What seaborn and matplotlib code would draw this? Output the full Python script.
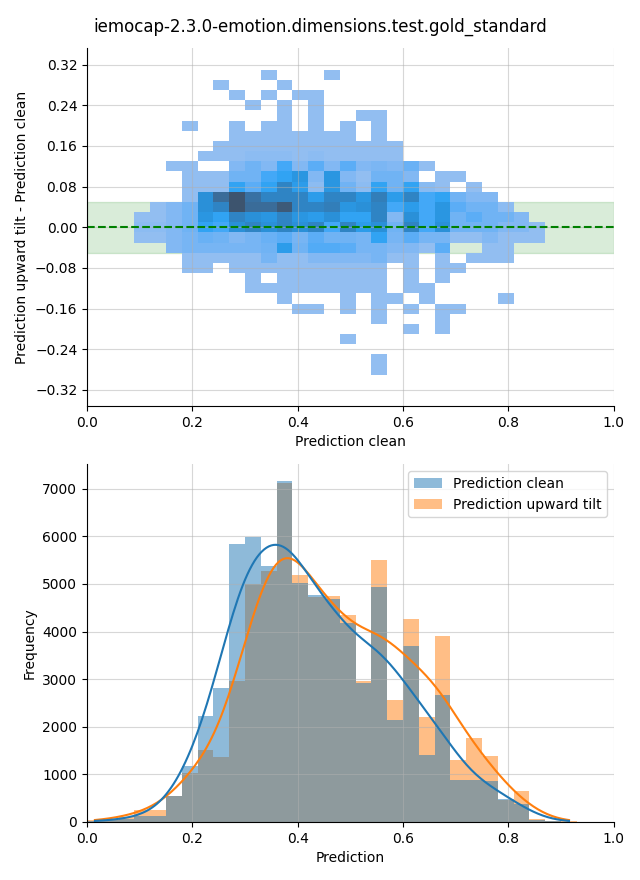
import numpy as np
import pandas as pd
import matplotlib
matplotlib.use('Agg')
import matplotlib.pyplot as plt
import seaborn as sns

title = 'iemocap-2.3.0-emotion.dimensions.test.gold_standard'

# ---- top panel: 2D histogram, clean prediction vs. (upward tilt - clean)
# bin centres of the cells (x bins 0.03, y bins 0.02)
pred_centres = [0.105, 0.135, 0.165, 0.195, 0.225, 0.255, 0.285, 0.315, 0.345,
                0.375, 0.405, 0.435, 0.465, 0.495, 0.525, 0.555, 0.585, 0.615,
                0.645, 0.675, 0.705, 0.735, 0.765, 0.795, 0.825, 0.855]
diff_centres = [0.30, 0.28, 0.26, 0.24, 0.22, 0.20, 0.18, 0.16, 0.14, 0.12,
                0.10, 0.08, 0.06, 0.04, 0.02, 0.00, -0.02, -0.04, -0.06, -0.08,
                -0.10, -0.12, -0.14, -0.16, -0.18, -0.20, -0.22, -0.24, -0.26, -0.28]
# relative cell counts (1 = faintest cell, 10 = darkest), one row per diff bin
cell_counts = [
    [0, 0, 0, 0, 0, 0, 0, 0, 1, 0, 0, 0, 1, 0, 0, 0, 0, 0, 0, 0, 0, 0, 0, 0, 0, 0],
    [0, 0, 0, 0, 0, 1, 0, 0, 0, 1, 0, 0, 0, 0, 0, 0, 0, 0, 0, 0, 0, 0, 0, 0, 0, 0],
    [0, 0, 0, 0, 0, 0, 1, 0, 1, 0, 1, 1, 0, 0, 0, 0, 0, 0, 0, 0, 0, 0, 0, 0, 0, 0],
    [0, 0, 0, 0, 0, 0, 0, 1, 0, 1, 0, 1, 0, 0, 0, 0, 0, 0, 0, 0, 0, 0, 0, 0, 0, 0],
    [0, 0, 0, 0, 0, 0, 0, 0, 0, 1, 0, 1, 0, 0, 1, 1, 0, 0, 0, 0, 0, 0, 0, 0, 0, 0],
    [0, 0, 0, 1, 0, 0, 1, 0, 1, 1, 0, 1, 0, 1, 0, 1, 0, 0, 0, 0, 0, 0, 0, 0, 0, 0],
    [0, 0, 0, 0, 0, 0, 1, 1, 1, 1, 1, 1, 1, 1, 0, 1, 0, 0, 0, 0, 0, 0, 0, 0, 0, 0],
    [0, 0, 0, 0, 0, 1, 1, 1, 1, 1, 1, 1, 1, 1, 1, 1, 1, 0, 0, 0, 0, 0, 0, 0, 0, 0],
    [0, 0, 0, 0, 1, 1, 1, 1.2, 1.2, 1.2, 1, 1.2, 1, 1, 1, 1, 1, 0, 0, 0, 0, 0, 0, 0, 0, 0],
    [0, 0, 1, 1, 0, 0, 1.5, 2, 1.5, 3, 1.5, 2.5, 1.5, 2.5, 1.5, 1.7, 1.5, 2.2, 1, 0, 0, 0, 0, 0, 0, 0],
    [0, 0, 0, 1, 1, 1, 2, 2, 3, 3.5, 4.5, 1.5, 4.5, 1.5, 1, 2, 2, 1.5, 0, 1, 1, 0, 0, 0, 0, 0],
    [0, 0, 0, 1, 1, 1, 3.5, 2.5, 3.5, 6, 4, 1.2, 4.5, 2, 1.2, 3.5, 2, 3.5, 1.3, 1, 0, 1, 0, 0, 0, 0],
    [0, 0, 0, 1, 5, 8, 10, 7.5, 6, 6, 6, 4, 6, 6, 4.5, 6.5, 4, 6, 3, 3.5, 2, 1.5, 1.5, 0, 0, 0],
    [0, 1, 1.5, 2, 5, 6, 10, 8, 8, 9.5, 6, 6, 6.5, 4.5, 5, 6, 3, 4, 3, 4.5, 2.5, 2, 2, 1.2, 0, 0],
    [1, 1, 1.5, 2, 4.5, 3.5, 6, 5, 4.5, 6, 4.5, 4, 5, 3.5, 3.5, 6, 1.5, 5, 3, 4.5, 2, 2.5, 2, 2, 1.5, 0],
    [1.2, 1.2, 1.5, 2, 3.5, 3, 5, 6, 5, 6, 5, 6, 3, 6, 4, 5, 2, 6, 3, 5, 2, 2, 2, 1.5, 1.5, 1],
    [1, 1, 1.5, 1.8, 2.2, 2, 1.5, 1.8, 2.2, 2.5, 1.8, 2.5, 2, 2, 1.8, 3.5, 1.8, 2.5, 1.8, 1.8, 1, 1, 1.5, 1, 1, 1],
    [0, 0, 1.5, 1.8, 1.8, 1.8, 1.8, 1.8, 2, 4, 2, 2.7, 2.7, 2.5, 1.8, 1.8, 1.5, 1.5, 1, 2.5, 0, 0, 1, 1, 0, 0],
    [0, 0, 0, 1, 1, 1, 1, 1, 1.8, 1, 1, 1.5, 1.5, 1.5, 1.5, 1.8, 1, 1, 0, 1, 0, 1, 1, 1, 0, 0],
    [0, 0, 0, 1, 1, 0, 1, 1, 1, 1, 1, 1, 1, 1, 1, 1, 0, 1, 0, 1, 1, 0, 0, 0, 0, 0],
    [0, 0, 0, 0, 0, 0, 0, 1, 0, 1, 1, 1, 1, 1, 1, 1, 0, 1, 0, 1, 0, 0, 0, 0, 0, 0],
    [0, 0, 0, 0, 0, 0, 0, 1, 1, 1, 1, 1, 1, 1, 1, 1, 0, 1, 1, 0, 0, 0, 0, 0, 0, 0],
    [0, 0, 0, 0, 0, 0, 0, 0, 0, 1, 0, 0, 0, 1, 0, 1, 1, 0, 1, 0, 0, 0, 0, 1, 0, 0],
    [0, 0, 0, 0, 0, 0, 0, 0, 0, 0, 1, 1, 0, 1, 0, 1, 0, 1, 0, 1, 1, 0, 0, 0, 0, 0],
    [0, 0, 0, 0, 0, 0, 0, 0, 0, 0, 0, 0, 0, 0, 0, 1, 0, 0, 0, 1, 0, 0, 0, 0, 0, 0],
    [0, 0, 0, 0, 0, 0, 0, 0, 0, 0, 0, 0, 0, 0, 0, 0, 0, 1, 0, 1, 0, 0, 0, 0, 0, 0],
    [0, 0, 0, 0, 0, 0, 0, 0, 0, 0, 0, 0, 0, 1, 0, 0, 0, 0, 0, 0, 0, 0, 0, 0, 0, 0],
    [0, 0, 0, 0, 0, 0, 0, 0, 0, 0, 0, 0, 0, 0, 0, 0, 0, 0, 0, 0, 0, 0, 0, 0, 0, 0],
    [0, 0, 0, 0, 0, 0, 0, 0, 0, 0, 0, 0, 0, 0, 0, 1, 0, 0, 0, 0, 0, 0, 0, 0, 0, 0],
    [0, 0, 0, 0, 0, 0, 0, 0, 0, 0, 0, 0, 0, 0, 0, 1, 0, 0, 0, 0, 0, 0, 0, 0, 0, 0],
]
diff_ticks = [-0.32, -0.24, -0.16, -0.08, 0.0, 0.08, 0.16, 0.24, 0.32]

# ---- bottom panel: histogram counts per 0.03 bin starting at 0.0
clean_counts = [10, 30, 60, 130, 130, 550, 1180, 2230, 2820, 5840, 5980, 5380,
                7160, 5010, 4770, 4680, 4175, 2910, 4940, 2150, 3700, 1410, 2670,
                890, 875, 860, 490, 380, 35, 10, 0, 0]
tilt_counts = [30, 50, 100, 240, 240, 540, 1030, 1520, 1360, 2970, 4990, 5270,
               7130, 5190, 4735, 4750, 4350, 2960, 5500, 2570, 4270, 2210, 3910,
               1310, 1770, 1390, 470, 650, 60, 15, 10, 0]
series_names = ['Prediction clean', 'Prediction upward tilt']

# long tables for seaborn
rows = []
for yi, dy in enumerate(diff_centres):
    for xi, px in enumerate(pred_centres):
        if cell_counts[yi][xi] > 0:
            rows.append((px, dy, cell_counts[yi][xi]))
cells = pd.DataFrame(rows, columns=['clean', 'diff', 'count'])

binw = 0.03
centres = binw / 2 + binw * np.arange(len(clean_counts))
hist = pd.DataFrame({
    'Prediction': np.concatenate([centres, centres]),
    'count': clean_counts + tilt_counts,
    'series': [series_names[0]] * len(centres) + [series_names[1]] * len(centres),
})
hist = hist[hist['count'] > 0]

fig, (ax1, ax2) = plt.subplots(2, 1, figsize=(6.4, 8.8))
fig.subplots_adjust(left=0.136, right=0.959, top=0.945, bottom=0.066, hspace=0.162)

ax1.axhspan(-0.05, 0.05, color='green', alpha=0.15, zorder=0)
sns.histplot(data=cells, x='clean', y='diff', weights='count',
             binwidth=(0.03, 0.02), binrange=((0.09, 0.87), (-0.29, 0.31)), ax=ax1)
ax1.axhline(0, color='green', linestyle='--', linewidth=1.5)
ax1.set_xlim(0, 1)
ax1.set_ylim(-0.352, 0.352)
ax1.set_yticks(diff_ticks)
ax1.set_xlabel('Prediction clean')
ax1.set_ylabel('Prediction upward tilt - Prediction clean')
ax1.grid(True, alpha=0.5)

sns.histplot(data=hist, x='Prediction', weights='count', hue='series',
             hue_order=series_names, binwidth=binw, binrange=(0, 0.96),
             kde=True, kde_kws={'bw_adjust': 0.5}, linewidth=0, ax=ax2)
ax2.set_xlim(0, 1)
ax2.set_xlabel('Prediction')
ax2.set_ylabel('Frequency')
ax2.grid(True, alpha=0.5)
sns.move_legend(ax2, 'upper right', title=None)

sns.despine(fig)
fig.suptitle(title, fontsize=12)
fig.savefig('out.png', dpi=100)
